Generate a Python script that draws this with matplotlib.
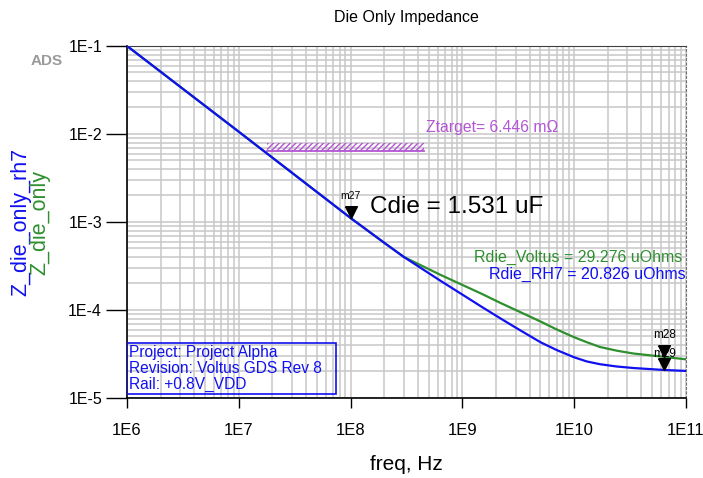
import matplotlib.pyplot as plt
import numpy as np
from matplotlib.ticker import FixedLocator, FixedFormatter, NullFormatter, LogLocator

plt.rcParams['font.family'] = ['Liberation Sans', 'DejaVu Sans']

# Dataset
freq = [1e6, 1e7, 1e8, 2e8, 3e8, 6.4e8, 1.5e9, 2.2e9, 3e9, 5e9, 7e9, 1e10, 1.3e10, 1.7e10, 2.4e10,
        3.4e10, 6.4e10, 1e11]
z_rh7 = [1.0e-1, 1.06e-2, 1.11e-3, 5.8e-4, 4.0e-4, 2.14e-4, 1.08e-4, 8.0e-5, 6.3e-5, 4.3e-5, 3.5e-5,
         2.9e-5, 2.6e-5, 2.42e-5, 2.28e-5, 2.19e-5, 2.08e-5, 2.03e-5]
z_voltus = [1.0e-1, 1.06e-2, 1.11e-3, 5.8e-4, 4.0e-4, 2.5e-4, 1.52e-4, 1.2e-4, 1.0e-4, 7.4e-5, 6.0e-5,
            4.9e-5, 4.3e-5, 3.8e-5, 3.45e-5, 3.2e-5, 2.93e-5, 2.75e-5]

ztarget = 6.446e-3
ztarget_band = [1.8e7, 4.5e8]

x_ticks = [1e6, 1e7, 1e8, 1e9, 1e10, 1e11]
x_labels = ['1E6', '1E7', '1E8', '1E9', '1E10', '1E11']
y_ticks = [1e-5, 1e-4, 1e-3, 1e-2, 1e-1]
y_labels = ['1E-5', '1E-4', '1E-3', '1E-2', '1E-1']

info_lines = ['Project: Project Alpha', 'Revision: Voltus GDS Rev 8', 'Rail: +0.8V_VDD']

BLUE = '#1010f0'
GREEN = '#2f8f2f'
PURPLE = '#b455d6'

fig = plt.figure(figsize=(7.03, 4.78), dpi=100, facecolor='white')
ax = fig.add_axes([0.1807, 0.1674, 0.795, 0.7364])
ax.set_xscale('log')
ax.set_yscale('log')
ax.set_xlim(1e6, 1e11)
ax.set_ylim(1e-5, 1e-1)

# grid
ax.xaxis.set_minor_locator(LogLocator(base=10, subs=np.arange(2, 10)))
ax.yaxis.set_minor_locator(LogLocator(base=10, subs=np.arange(2, 10)))
ax.grid(True, which='both', color='#c8c8c8', linewidth=1.1)
ax.set_axisbelow(True)

# curves
ax.plot(freq, z_voltus, color=GREEN, linewidth=1.6, zorder=3)
ax.plot(freq, z_rh7, color=BLUE, linewidth=1.6, zorder=4)

# Ztarget hatched band
plt.rcParams['hatch.color'] = PURPLE
ax.fill_between(ztarget_band, [ztarget, ztarget], [ztarget * 1.23, ztarget * 1.23],
                facecolor='none', edgecolor=PURPLE, hatch='//////', linewidth=0, zorder=2)
ax.plot(ztarget_band, [ztarget, ztarget], color=PURPLE, linewidth=1.3, zorder=2)
ax.text(4.7e8, 1.2e-2, 'Ztarget= 6.446 m\u03a9', color=PURPLE, fontsize=11.3, va='center', ha='left')

# markers (tip on the curve)
tri = [(-1, 2), (1, 2), (0, 0), (-1, 2)]
i27 = freq.index(1e8)
i28 = freq.index(6.4e10)
ax.plot(freq[i27], z_rh7[i27], marker=tri, markersize=17, color='black', linestyle='none', zorder=6)
ax.text(freq[i27], z_rh7[i27] * 1.55, 'm27', fontsize=7.5, ha='center', va='bottom', zorder=6)
ax.text(freq[i28], z_rh7[i28] * 1.3, 'm29', fontsize=8.5, ha='center', va='bottom', zorder=5)
ax.plot(freq[i28], z_voltus[i28], marker=tri, markersize=17, color='black', linestyle='none', zorder=6)
ax.plot(freq[i28], z_rh7[i28], marker=tri, markersize=17, color='black', linestyle='none', zorder=6)
ax.text(freq[i28], z_voltus[i28] * 1.5, 'm28', fontsize=8.5, ha='center', va='bottom', zorder=6)

ax.text(1.5e8, 1.48e-3, 'Cdie = 1.531 uF', fontsize=17.5, va='center', ha='left', zorder=7)
ax.text(9.2e10, 4.0e-4, 'Rdie_Voltus = 29.276 uOhms', color=GREEN, fontsize=11.5, va='center', ha='right')
ax.text(1e11, 2.56e-4, 'Rdie_RH7 = 20.826 uOhms', color=BLUE, fontsize=11.5, va='center', ha='right')

# info box
box = plt.Rectangle((0.0, 0.011), 0.374, 0.145, transform=ax.transAxes, fill=False,
                    edgecolor=BLUE, linewidth=1.2, zorder=5)
ax.add_patch(box)
for k, line in enumerate(info_lines):
    ax.text(0.004, 0.13 - k * 0.046, line, transform=ax.transAxes, color=BLUE, fontsize=11.2,
            va='center', ha='left', zorder=6)

# axes and ticks
ax.xaxis.set_major_locator(FixedLocator(x_ticks))
ax.xaxis.set_major_formatter(FixedFormatter(x_labels))
ax.yaxis.set_major_locator(FixedLocator(y_ticks))
ax.yaxis.set_major_formatter(FixedFormatter(y_labels))
ax.xaxis.set_minor_formatter(NullFormatter())
ax.yaxis.set_minor_formatter(NullFormatter())
ax.tick_params(axis='x', which='major', length=7, width=1, pad=11, labelsize=12)
ax.tick_params(axis='y', which='major', length=15, width=1, pad=3, labelsize=11.5)
ax.tick_params(which='minor', length=0)

ax.spines['left'].set_linewidth(1.2)
ax.spines['bottom'].set_linewidth(1.2)
ax.spines['top'].set_color('#404040')
ax.spines['right'].set_color('#707070')
ax.spines['right'].set_linestyle((0, (2, 2)))

ax.set_title('Die Only Impedance', fontsize=11.5, pad=17)
ax.set_xlabel('freq, Hz', fontsize=15, labelpad=12)
fig.text(0.029, 0.535, 'Z_die_only_rh7', color=BLUE, fontsize=15.5, rotation=90, ha='center', va='center')
fig.text(0.057, 0.535, 'Z_die_only', color=GREEN, fontsize=15.5, rotation=90, ha='center', va='center')
fig.text(0.067, 0.873, 'ADS', color='#9a9a9a', fontsize=11, fontweight='bold', ha='center', va='center')

fig.savefig('out.png', dpi=100, facecolor='white')
